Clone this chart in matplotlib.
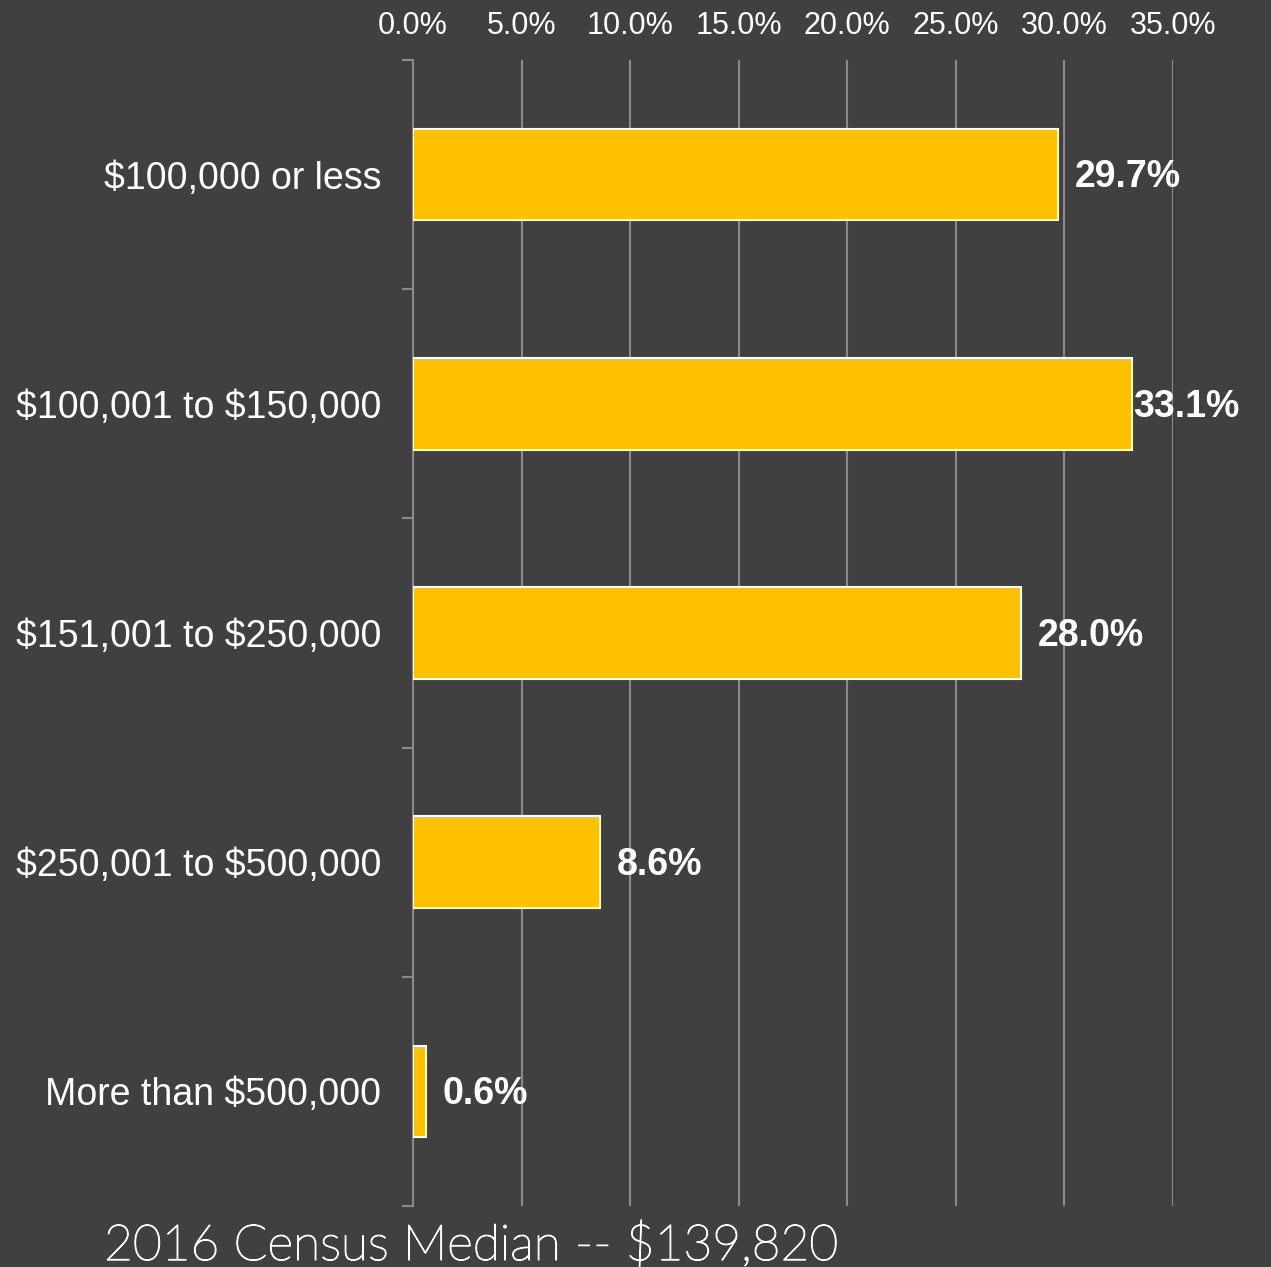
import matplotlib
matplotlib.use("Agg")
import matplotlib.pyplot as plt
import matplotlib.patheffects as pe
from matplotlib.ticker import FixedLocator, FuncFormatter

plt.rcParams["text.parse_math"] = False

# Share of sales by price range
categories = [
    "$100,000 or less",
    "$100,001 to $150,000",
    "$151,001 to $250,000",
    "$250,001 to $500,000",
    "More than $500,000",
]
shares = [29.7, 33.1, 28.0, 8.6, 0.6]
x_ticks = [0, 5, 10, 15, 20, 25, 30, 35]
footer = "2016 Census Median -- $139,820"

BG = "#404040"
BAR = "#FFC000"
GRID = "#8a8a8a"
TEXT = "#ffffff"

W, H, DPI = 1271, 1267, 100
fig = plt.figure(figsize=(W / DPI, H / DPI), dpi=DPI, facecolor=BG)
ax = fig.add_axes([413 / W, 1 - 1206 / H, 760 / W, 1146 / H])
ax.set_facecolor(BG)

ypos = list(range(len(categories)))
ax.barh(ypos, shares, height=0.4, color=BAR, edgecolor="white",
        linewidth=1.5, zorder=3)

ax.set_xlim(0, 35)
ax.set_ylim(len(categories) - 0.5, -0.5)

# percentage axis on top with vertical gridlines
ax.xaxis.tick_top()
ax.xaxis.set_major_locator(FixedLocator(x_ticks))
ax.xaxis.set_major_formatter(FuncFormatter(lambda v, p: f"{v:.1f}%"))
ax.tick_params(axis="x", length=0, pad=14, labelsize=22, labelcolor=TEXT)
for lab in ax.get_xticklabels():
    lab.set_fontfamily("Liberation Sans")
ax.grid(axis="x", color=GRID, linewidth=1.5, zorder=1)

# category labels, with boundary ticks on the left spine
ax.set_yticks(ypos)
ax.set_yticklabels(categories, fontsize=27, color=TEXT,
                   fontfamily="Liberation Sans")
ax.tick_params(axis="y", which="major", length=0, pad=23)
ax.set_yticks([i - 0.5 for i in range(len(categories) + 1)], minor=True)
ax.tick_params(axis="y", which="minor", length=8, width=1.5, color=GRID,
               direction="out")

for side in ("top", "right", "bottom"):
    ax.spines[side].set_visible(False)
ax.spines["left"].set_color(GRID)
ax.spines["left"].set_linewidth(1.5)

# value labels at the end of each bar
for y, v in zip(ypos, shares):
    pad_pts = 12 if v < 32 else 1
    ax.annotate(f"{v:.1f}%", xy=(v, y), xytext=(pad_pts, -2),
                textcoords="offset points", ha="left", va="center",
                fontsize=27, fontweight="bold", color=TEXT,
                fontfamily="Liberation Sans", zorder=4, annotation_clip=False)

fig.text(104 / W, 1 - 1260 / H, footer, ha="left", va="baseline",
         fontsize=35.8, color=TEXT, fontfamily="Lato", fontweight="light",
         path_effects=[pe.Stroke(linewidth=0.9, foreground=TEXT), pe.Normal()])

fig.savefig("out.png", dpi=DPI, facecolor=BG)
